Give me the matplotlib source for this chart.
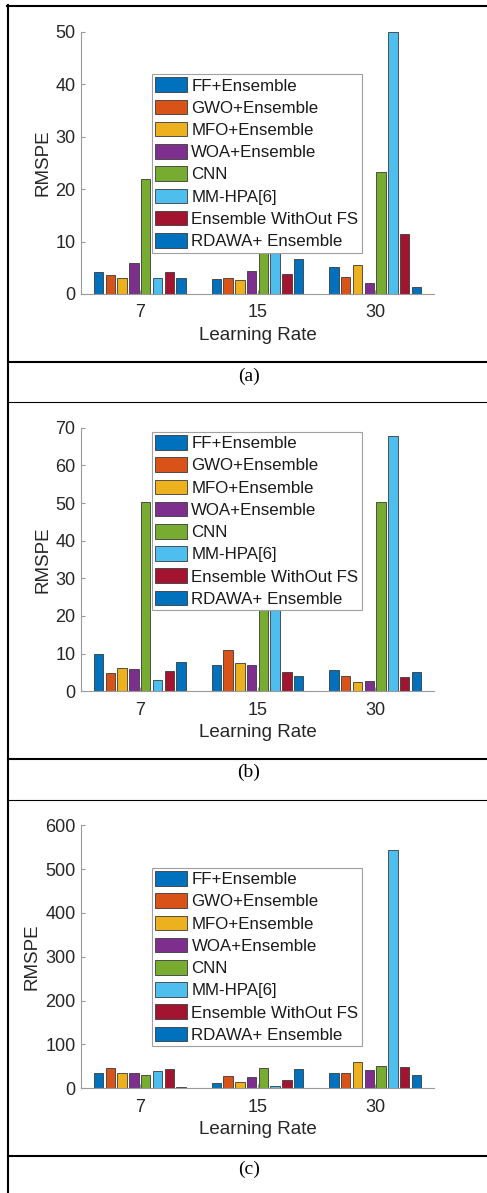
import matplotlib.pyplot as plt
import numpy as np
from matplotlib.lines import Line2D

plt.rcParams['font.family'] = ['Liberation Sans', 'DejaVu Sans']

methods = ['FF+Ensemble', 'GWO+Ensemble', 'MFO+Ensemble', 'WOA+Ensemble',
           'CNN', 'MM-HPA[6]', 'Ensemble WithOut FS', 'RDAWA+ Ensemble']
rates = ['7', '15', '30']

# RMSPE of each method at learning rate 7, 15, 30
rmspe_a = [[4.2, 2.9, 5.2],
           [3.6, 3.1, 3.2],
           [3.0, 2.7, 5.6],
           [6.0, 4.4, 2.1],
           [22.0, 13.0, 23.2],
           [3.1, 11.0, 49.9],
           [4.1, 3.9, 11.5],
           [3.1, 6.7, 1.4]]
rmspe_b = [[9.8, 7.1, 5.6],
           [4.8, 10.9, 4.1],
           [6.1, 7.4, 2.5],
           [6.0, 7.1, 2.7],
           [50.2, 35.0, 50.2],
           [3.0, 30.0, 67.7],
           [5.5, 5.2, 3.8],
           [7.9, 4.1, 5.0]]
rmspe_c = [[35.0, 12.2, 35.7],
           [45.6, 27.4, 34.2],
           [34.2, 13.7, 59.3],
           [35.7, 25.9, 41.8],
           [31.2, 47.1, 51.0],
           [38.8, 5.3, 543.7],
           [43.3, 19.0, 49.4],
           [3.0, 44.9, 31.2]]

ylims = [50, 70, 600]
ysteps = [10, 10, 100]
captions = ['(a)', '(b)', '(c)']

colors = ['#0072BD', '#D95319', '#EDB120', '#7E2F8E',
          '#77AC30', '#4DBEEE', '#A2142F', '#0072BD']

W, H = 487, 1193
fig = plt.figure(figsize=(W / 100, H / 100), dpi=100)


def fx(px):
    return px / W


def fy(py):
    return 1 - py / H


# axes boxes in pixels: (left, top, right, bottom)
boxes = [(81, 31.7, 434, 294), (81, 427.7, 434, 691.3), (81, 825.3, 434, 1088.3)]
leg_pos = [(151.7, 74), (151.7, 431.7), (152, 867.7)]
cap_y = [376, 772, 1169]

for k, data in enumerate([rmspe_a, rmspe_b, rmspe_c]):
    l, t, r, b = boxes[k]
    ax = fig.add_axes([fx(l), fy(b), fx(r) - fx(l), (b - t) / H])
    x = np.arange(1, 4)
    for i, vals in enumerate(data):
        ax.bar(x + (i - 3.5) * 0.1, vals, width=0.08, color=colors[i],
               edgecolor='#3a3a3a', linewidth=0.6, label=methods[i])
    ax.set_xlim(0.5, 3.5)
    ax.set_ylim(0, ylims[k])
    ax.set_yticks(np.arange(0, ylims[k] + 1, ysteps[k]))
    ax.set_xticks(x)
    ax.set_xticklabels(rates)
    for s in ['top', 'right']:
        ax.spines[s].set_visible(False)
    for s in ['left', 'bottom']:
        ax.spines[s].set_color('#9a9a9a')
        ax.spines[s].set_linewidth(0.8)
    ax.tick_params(axis='both', direction='in', length=3, color='#9a9a9a',
                   labelsize=13, labelcolor='#262626')
    ax.tick_params(axis='x', pad=7.5)
    ax.tick_params(axis='y', pad=4)
    ax.set_xlabel('Learning Rate', fontsize=13.5, color='#262626', labelpad=4)
    ax.set_ylabel('RMSPE', fontsize=13.5, color='#262626', labelpad=3)
    lx, ly = leg_pos[k]
    leg = ax.legend(loc='upper left', bbox_to_anchor=(fx(lx), fy(ly)),
                    bbox_transform=fig.transFigure, borderaxespad=0,
                    fontsize=12.2, fancybox=False, framealpha=1,
                    handlelength=1.88, handleheight=0.95, handletextpad=0.25,
                    labelspacing=0.36, borderpad=0.2)
    leg.get_frame().set_edgecolor('#a0a0a0')
    leg.get_frame().set_linewidth(0.8)
    for txt in leg.get_texts():
        txt.set_color('#1a1a1a')
    fig.text(fx(249), fy(cap_y[k]), captions[k], ha='center', va='center',
             fontsize=14, family=['Liberation Serif', 'DejaVu Serif'])

# table rules around the three panels
rules = [((8, 8), (5, H), 1.5),
         ((7, W), (6, 6), 1.5),
         ((8, W), (362, 362), 1.5),
         ((8, W), (402, 402), 0.8),
         ((8, W), (759, 759), 1.5),
         ((8, W), (800, 800), 0.8),
         ((8, W), (1156, 1156), 1.5)]
for (x0, x1), (y0, y1), lw in rules:
    fig.add_artist(Line2D([fx(x0), fx(x1)], [fy(y0), fy(y1)],
                          transform=fig.transFigure, color='black', linewidth=lw))

fig.savefig('out.png', dpi=100)
